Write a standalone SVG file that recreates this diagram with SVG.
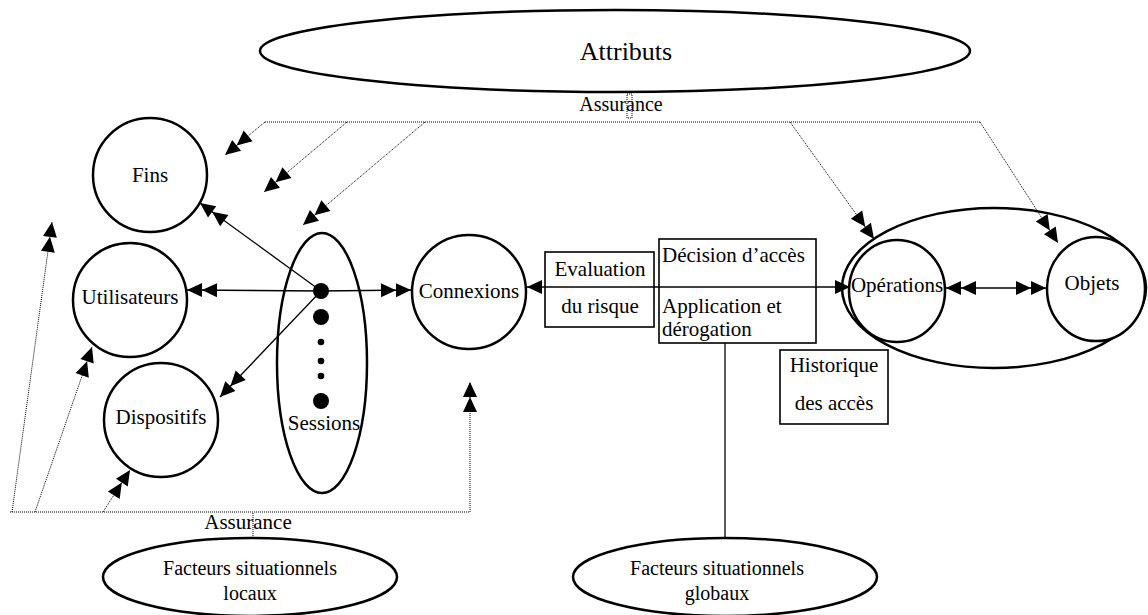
<svg xmlns="http://www.w3.org/2000/svg" width="1148" height="615" viewBox="0 0 1148 615">
  <style>
    .node { fill: #ffffff; stroke: #000000; stroke-width: 2.5; }
    .box { fill: #ffffff; stroke: #000000; stroke-width: 1.6; }
    .lbl { font-family: "Liberation Serif", "Times New Roman", serif; font-size: 21px; fill: #000000; text-anchor: middle; }
    .lft { text-anchor: start; }
    .solid { fill: none; stroke: #000000; stroke-width: 1.3; }
    .dot { fill: none; stroke: #000000; stroke-width: 1; stroke-dasharray: 1 1; }
    .dbl { marker-end: url(#dbl); }
    .dot-s { fill: #000000; }
  </style>
  <defs>
    <!-- double filled arrowhead -->
    <marker id="dbl" markerUnits="userSpaceOnUse" markerWidth="34" markerHeight="16" viewBox="-32 -8 34 16" refX="0" refY="0" orient="auto">
      <path d="M0,0 L-15,-7 L-15,7 Z M-15,0 L-30,-7 L-30,7 Z" fill="#000000"/>
    </marker>
    <marker id="dblStart" markerUnits="userSpaceOnUse" markerWidth="34" markerHeight="16" viewBox="-32 -8 34 16" refX="0" refY="0" orient="auto-start-reverse">
      <path d="M0,0 L-15,-7 L-15,7 Z M-15,0 L-30,-7 L-30,7 Z" fill="#000000"/>
    </marker>
    <!-- single filled arrowhead -->
    <marker id="one" markerUnits="userSpaceOnUse" markerWidth="18" markerHeight="16" viewBox="-16 -8 18 16" refX="0" refY="0" orient="auto-start-reverse">
      <path d="M0,0 L-15,-7 L-15,7 Z" fill="#000000"/>
    </marker>
  </defs>

  <!-- top attribute set -->
  <g id="attributs">
    <ellipse class="node" cx="615" cy="51" rx="355" ry="41"/>
    <text class="lbl" x="626" y="60" style="font-size:26px">Attributs</text>
  </g>

  <!-- application boxes -->
  <g id="evaluation">
    <rect class="box" x="545" y="252" width="109" height="75"/>
    <text class="lbl" x="600" y="276">Evaluation</text>
    <text class="lbl" x="600" y="313">du risque</text>
  </g>
  <g id="decision">
    <rect class="box" x="659" y="239" width="157" height="104"/>
    <text class="lbl lft" x="662" y="262">Décision d’accès</text>
    <text class="lbl lft" x="662" y="313">Application et</text>
    <text class="lbl lft" x="662" y="336">dérogation</text>
  </g>
  <g id="historique">
    <rect class="box" x="780" y="350" width="108" height="74"/>
    <text class="lbl" x="834" y="372">Historique</text>
    <text class="lbl" x="834" y="410">des accès</text>
  </g>

  <!-- entity nodes -->
  <g id="fins">
    <circle class="node" cx="150" cy="175" r="57"/>
    <text class="lbl" x="150" y="182">Fins</text>
  </g>
  <g id="utilisateurs">
    <circle class="node" cx="130" cy="300" r="57"/>
    <text class="lbl" x="130" y="304">Utilisateurs</text>
  </g>
  <g id="dispositifs">
    <circle class="node" cx="161" cy="420" r="57"/>
    <text class="lbl" x="161" y="424">Dispositifs</text>
  </g>
  <g id="sessions">
    <ellipse class="node" cx="322" cy="363" rx="45" ry="130"/>
    <circle class="dot-s" cx="321" cy="291" r="8"/>
    <circle class="dot-s" cx="321" cy="317" r="8"/>
    <circle class="dot-s" cx="321" cy="342" r="3.3"/>
    <circle class="dot-s" cx="321" cy="361" r="3.3"/>
    <circle class="dot-s" cx="321" cy="376" r="3.3"/>
    <circle class="dot-s" cx="321" cy="401" r="8"/>
    <text class="lbl" x="324" y="430">Sessions</text>
  </g>
  <g id="connexions">
    <circle class="node" cx="469" cy="292" r="57"/>
    <text class="lbl" x="469" y="298">Connexions</text>
  </g>
  <g id="ressources">
    <ellipse class="node" cx="994" cy="288" rx="152" ry="80"/>
  </g>
  <g id="operations">
    <ellipse class="node" cx="897" cy="291" rx="48" ry="51"/>
    <text class="lbl" x="897" y="292">Opérations</text>
  </g>
  <g id="objets">
    <ellipse class="node" cx="1096" cy="289" rx="49" ry="52"/>
    <text class="lbl" x="1092" y="290">Objets</text>
  </g>

  <!-- situational factors -->
  <g id="facteurs-locaux">
    <ellipse class="node" cx="250" cy="577" rx="147" ry="39"/>
    <text class="lbl" x="250" y="575" style="font-size:20px">Facteurs situationnels</text>
    <text class="lbl" x="250" y="600" style="font-size:20px">locaux</text>
  </g>
  <g id="facteurs-globaux">
    <ellipse class="node" cx="725" cy="577" rx="152" ry="39"/>
    <text class="lbl" x="717" y="575" style="font-size:20px">Facteurs situationnels</text>
    <text class="lbl" x="717" y="600" style="font-size:20px">globaux</text>
  </g>

  <!-- assurance labels -->
  <g id="assurance-haut">
    <text class="lbl" x="621" y="111" style="font-size:20px">Assurance</text>
  </g>
  <g id="assurance-bas">
    <text class="lbl" x="248" y="529">Assurance</text>
  </g>

  <g id="connectors">
    <!-- session links -->
    <line class="solid dbl" x1="321" y1="291" x2="200" y2="203"/>
    <line class="solid dbl" x1="321" y1="291" x2="187" y2="290"/>
    <line class="solid dbl" x1="321" y1="291" x2="220" y2="397"/>
    <line class="solid dbl" x1="321" y1="291" x2="411" y2="290"/>
    <!-- access decision path -->
    <line class="solid" x1="527" y1="287" x2="850" y2="287" marker-start="url(#one)" marker-end="url(#one)"/>
    <!-- operations / objects -->
    <line class="solid" x1="946" y1="288" x2="1046" y2="288" marker-start="url(#dblStart)" marker-end="url(#dbl)"/>
    <!-- global factors feed -->
    <line class="solid" x1="725" y1="343" x2="725" y2="538"/>

    <!-- upper assurance bus -->
    <rect class="dot" x="627" y="94" width="5" height="24"/>
    <polyline class="dot" points="265,122 980,122"/>
    <line class="dot dbl" x1="265" y1="122" x2="225" y2="155"/>
    <line class="dot dbl" x1="347" y1="122" x2="264" y2="192"/>
    <line class="dot dbl" x1="425" y1="122" x2="303" y2="225"/>
    <line class="dot dbl" x1="790" y1="122" x2="874" y2="239"/>
    <line class="dot dbl" x1="980" y1="122" x2="1058" y2="243"/>

    <!-- lower assurance bus -->
    <line class="dot" x1="253" y1="513" x2="253" y2="537"/>
    <polyline class="dot" points="10,512 470,512 470,382" marker-end="url(#dbl)"/>
    <line class="dot dbl" x1="12" y1="512" x2="52" y2="222"/>
    <line class="dot dbl" x1="35" y1="512" x2="92" y2="347"/>
    <line class="dot dbl" x1="103" y1="512" x2="130" y2="470"/>
  </g>
</svg>
